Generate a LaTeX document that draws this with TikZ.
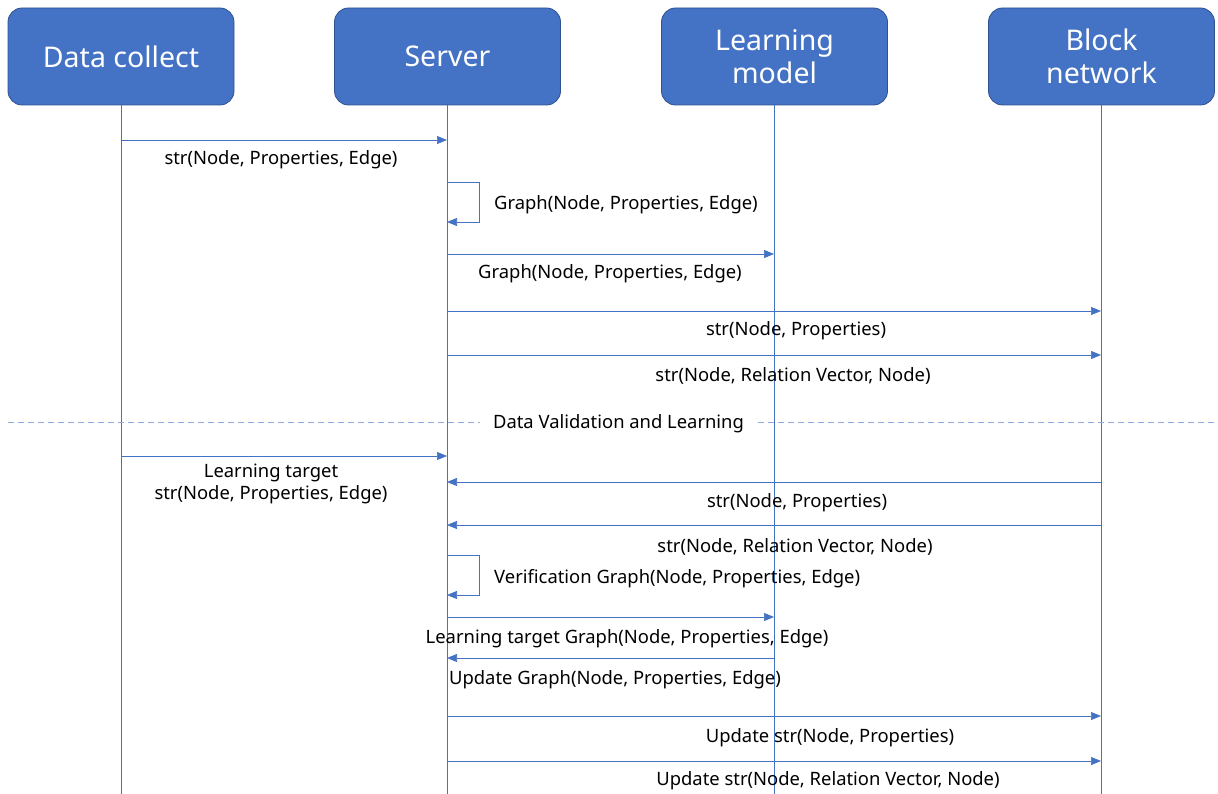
\documentclass[tikz,border=0pt]{standalone}
\usepackage{fontspec}
\setmainfont{Noto Sans}
\usetikzlibrary{arrows.meta}
\definecolor{boxblue}{HTML}{4472C4}
\definecolor{boxedge}{HTML}{2F528F}
\definecolor{lineblue}{HTML}{4472C4}
\definecolor{dashblue}{HTML}{8FAADC}
\tikzset{
  actor/.style={draw=boxedge, line width=0.8pt, fill=boxblue, rounded corners=14pt,
    minimum width=226pt, minimum height=97pt, text=white, align=center,
    font=\fontsize{28.5}{33}\selectfont, inner sep=0pt},
  lifeline/.style={draw=lineblue, line width=0.5pt},
  msg/.style={draw=lineblue, line width=0.7pt, -{Triangle[length=10pt,width=8pt]}},
  lbl/.style={font=\fontsize{18.4}{22}\selectfont, text=black, inner sep=0pt, align=center},
  sep/.style={draw=dashblue, line width=0.8pt, dash pattern=on 6pt off 4pt}
}
\begin{document}
\begin{tikzpicture}[x=1pt,y=-1pt]
\useasboundingbox (0,0) rectangle (1218,794);
% actors
\node[actor] (dc) at (121,56.5) {Data collect};
\node[actor] (sv) at (447.5,56.5) {Server};
\node[actor] (lm) at (774.5,56.5) {Learning\\model};
\node[actor] (bn) at (1101.5,56.5) {Block\\network};
% lifeline ends
\coordinate (dcb) at (121,794);
\coordinate (svb) at (447,794);
\coordinate (lmb) at (774,794);
\coordinate (bnb) at (1101,794);
\draw[lifeline] (dc.south) -- (dcb);
\draw[lifeline] (sv.south -| svb) -- (svb);
\draw[lifeline] (lm.south -| lmb) -- (lmb);
\draw[lifeline] (bn.south -| bnb) -- (bnb);
% separator
\coordinate (sepL) at (8,422);
\coordinate (sepR) at (1218,422);
\draw[sep] (sepL) -- (sepR);
\node[lbl, fill=white, minimum width=277pt, minimum height=26pt] (septext) at (618.5,424) {Data Validation and Learning};
% messages
\draw[msg] (dcb |- 0,140) -- (svb |- 0,140);
\node[lbl] (t1) at (281,160) {str(Node, Properties, Edge)};
\draw[msg] (svb |- 0,182) -- (479,182) -- (479,222) -- (svb |- 0,222);
\node[lbl, anchor=west] (t2) at (494,205) {Graph(Node, Properties, Edge)};
\draw[msg] (svb |- 0,254) -- (lmb |- 0,254);
\node[lbl] (t3) at (610,274) {Graph(Node, Properties, Edge)};
\draw[msg] (svb |- 0,311) -- (bnb |- 0,311);
\node[lbl] (t4) at (796,331) {str(Node, Properties)};
\draw[msg] (svb |- 0,355) -- (bnb |- 0,355);
\node[lbl] (t5) at (793,376) {str(Node, Relation Vector, Node)};
\draw[msg] (dcb |- 0,456) -- (svb |- 0,456);
\node[lbl] (t6) at (271,484) {Learning target\\str(Node, Properties, Edge)};
\draw[msg] (bnb |- 0,482) -- (svb |- 0,482);
\node[lbl] (t7) at (797,503) {str(Node, Properties)};
\draw[msg] (bnb |- 0,525) -- (svb |- 0,525);
\node[lbl] (t8) at (795,547) {str(Node, Relation Vector, Node)};
\draw[msg] (svb |- 0,555) -- (479,555) -- (479,595) -- (svb |- 0,595);
\node[lbl, anchor=west] (t9) at (494,579) {Verification Graph(Node, Properties, Edge)};
\draw[msg] (svb |- 0,617) -- (lmb |- 0,617);
\node[lbl] (t10) at (627,639) {Learning target Graph(Node, Properties, Edge)};
\draw[msg] (lmb |- 0,658) -- (svb |- 0,658);
\node[lbl] (t11) at (615,680) {Update Graph(Node, Properties, Edge)};
\draw[msg] (svb |- 0,716) -- (bnb |- 0,716);
\node[lbl] (t12) at (830,738) {Update str(Node, Properties)};
\draw[msg] (svb |- 0,761) -- (bnb |- 0,761);
\node[lbl] (t13) at (828,781) {Update str(Node, Relation Vector, Node)};
\end{tikzpicture}
\end{document}
